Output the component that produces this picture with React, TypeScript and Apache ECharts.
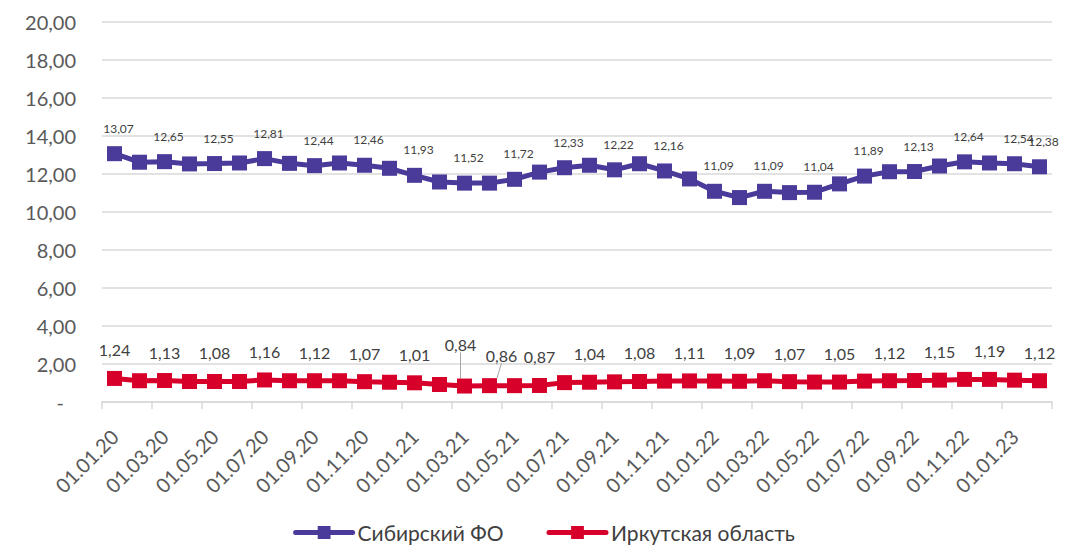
import React, { useEffect, useRef } from "react";
import * as echarts from "echarts";

const categories = [
  "01.01.20","01.02.20","01.03.20","01.04.20","01.05.20","01.06.20","01.07.20","01.08.20","01.09.20","01.10.20","01.11.20","01.12.20",
  "01.01.21","01.02.21","01.03.21","01.04.21","01.05.21","01.06.21","01.07.21","01.08.21","01.09.21","01.10.21","01.11.21","01.12.21",
  "01.01.22","01.02.22","01.03.22","01.04.22","01.05.22","01.06.22","01.07.22","01.08.22","01.09.22","01.10.22","01.11.22","01.12.22",
  "01.01.23","01.02.23"
];

const sibValues = [
  13.07, 12.62, 12.65, 12.53, 12.55, 12.58, 12.81, 12.56, 12.44, 12.58, 12.46, 12.30,
  11.93, 11.58, 11.52, 11.52, 11.72, 12.10, 12.33, 12.46, 12.22, 12.54, 12.16, 11.74,
  11.09, 10.76, 11.09, 11.02, 11.04, 11.48, 11.89, 12.12, 12.13, 12.42, 12.64, 12.58,
  12.54, 12.38
];

const irkValues = [
  1.24, 1.12, 1.13, 1.08, 1.08, 1.08, 1.16, 1.12, 1.12, 1.12, 1.07, 1.04,
  1.01, 0.92, 0.84, 0.86, 0.86, 0.87, 1.02, 1.04, 1.06, 1.08, 1.10, 1.11,
  1.10, 1.09, 1.12, 1.07, 1.05, 1.05, 1.10, 1.12, 1.13, 1.15, 1.19, 1.19,
  1.15, 1.12
];

const sibLabeled = [0, 2, 4, 6, 8, 10, 12, 14, 16, 18, 20, 22, 24, 26, 28, 30, 32, 34, 36, 37];
const irkLabeled = [0, 2, 4, 6, 8, 10, 12, 14, 15, 17, 19, 21, 23, 25, 27, 29, 31, 33, 35, 37];

const seriesNames = ["Сибирский ФО", "Иркутская область"];
const colors = ["#4A3A9A", "#D6002A"];

const fmt = (v: number) => v.toFixed(2).replace(".", ",");
const FONT = "Lato, 'Noto Sans', sans-serif";

export default function App() {
  const ref = useRef<HTMLDivElement>(null);
  useEffect(() => {
    if (!ref.current) return;
    const chart = echarts.init(ref.current, null, { renderer: "svg" });
    const mk = (vals: number[], labeled: number[], leaders: number[]) =>
      vals.map((v, i) => ({
        value: v,
        label: { show: labeled.includes(i) },
        labelLine: { show: leaders.includes(i) },
      }));
    chart.setOption({
      animation: false,
      textStyle: { fontFamily: FONT },
      grid: { left: 94, right: 28, top: 14, bottom: 146 },
      legend: {
        bottom: 5,
        left: "center",
        padding: 0,
        itemWidth: 57,
        itemHeight: 16,
        itemGap: 43,
        lineStyle: { width: 5, cap: "round" },
        textStyle: { fontSize: 21, color: "#404040", fontFamily: FONT },
        data: seriesNames,
      },
      xAxis: {
        type: "category",
        data: categories,
        boundaryGap: true,
        axisLine: { lineStyle: { color: "#D9D9D9", width: 1.5 } },
        axisTick: { show: true, interval: 1, length: 7, lineStyle: { color: "#D9D9D9", width: 1.5 } },
        axisLabel: { interval: 1, rotate: 45, fontSize: 20, color: "#595959", margin: 31, fontFamily: FONT },
        splitLine: { show: false },
      },
      yAxis: {
        type: "value",
        min: 0,
        max: 20,
        interval: 2,
        axisLine: { show: false },
        axisTick: { show: false },
        splitLine: { lineStyle: { color: "#D9D9D9", width: 1.5 } },
        axisLabel: {
          fontSize: 20,
          color: "#595959",
          margin: 26,
          fontFamily: FONT,
          formatter: (v: number) => (v === 0 ? "{z|-}" : fmt(v)),
          rich: { z: { fontSize: 20, color: "#595959", padding: [0, 12, 0, 0], fontFamily: FONT } },
        },
      },
      series: [
        {
          name: seriesNames[0],
          type: "line",
          data: mk(sibValues, sibLabeled, []),
          symbol: "rect",
          symbolSize: 15,
          itemStyle: { color: colors[0] },
          lineStyle: { color: colors[0], width: 5 },
          label: {
            position: "top",
            distance: 12,
            fontSize: 12,
            offset: [4, 0],
            color: "#404040",
            fontFamily: FONT,
            formatter: (p: any) => fmt(p.value),
          },
        },
        {
          name: seriesNames[1],
          type: "line",
          data: mk(irkValues, irkLabeled, [14, 15]),
          symbol: "rect",
          symbolSize: 15,
          itemStyle: { color: colors[1] },
          lineStyle: { color: colors[1], width: 5 },
          label: {
            position: "top",
            distance: 13,
            fontSize: 16,
            offset: [6, 0],
            color: "#404040",
            fontFamily: FONT,
            formatter: (p: any) => fmt(p.value),
          },
          labelLine: { show: false, lineStyle: { color: "#A6A6A6", width: 1 } },
          labelLayout: (params: any) => {
            if (params.dataIndex === 14) return { dx: -4, dy: -13 };
            if (params.dataIndex === 15) return { dx: 12, dy: -2 };
            return {};
          },
        },
      ],
    });
    return () => chart.dispose();
  }, []);
  return <div ref={ref} style={{ width: 1072, height: 540 }} />;
}
